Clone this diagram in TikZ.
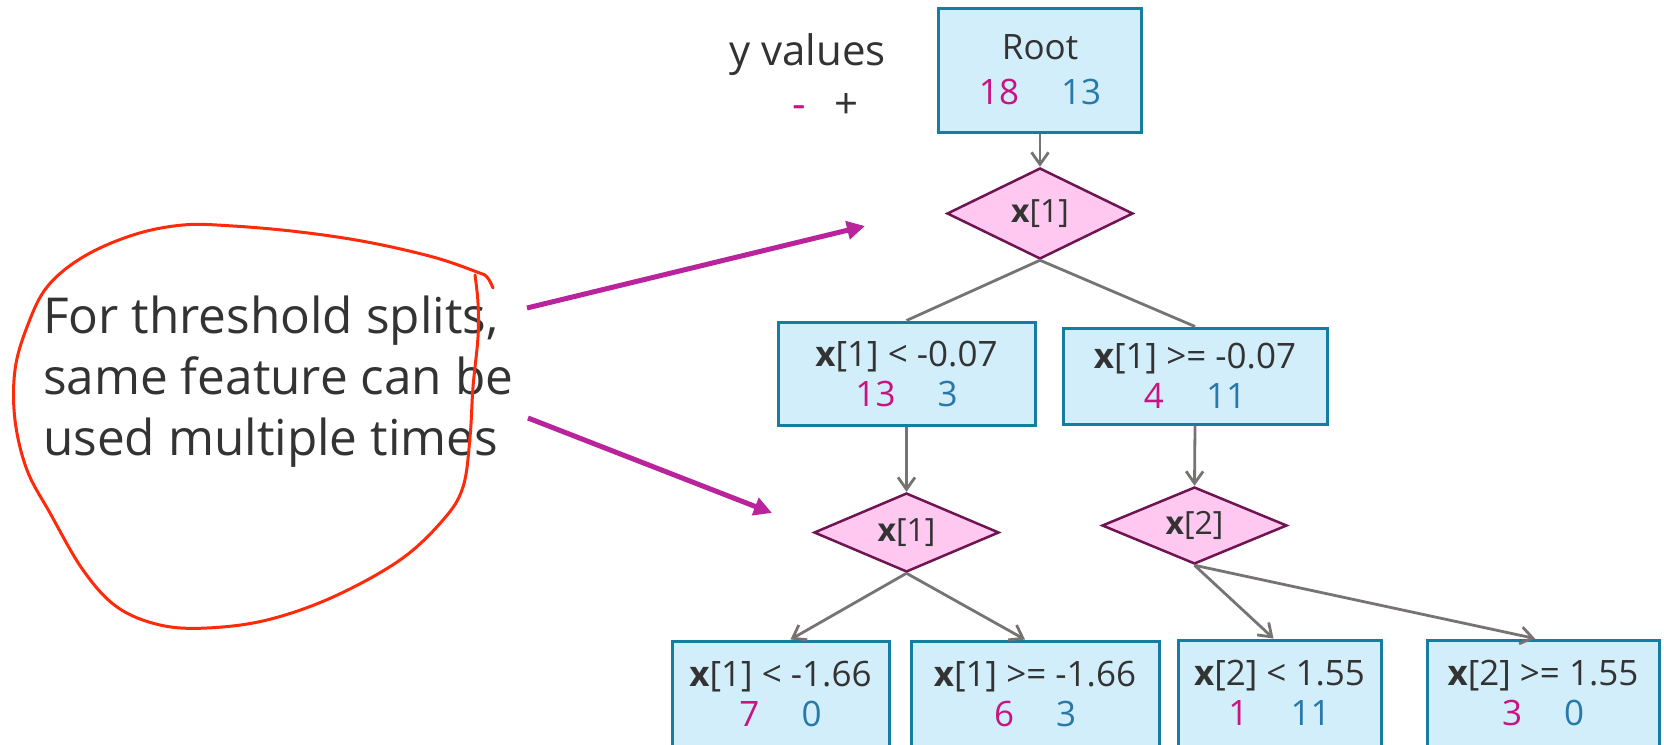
\documentclass[tikz,border=0pt]{standalone}
\usepackage{fontspec}
\setmainfont{Open Sans}
\definecolor{boxfill}{HTML}{D2EEFA}
\definecolor{boxline}{HTML}{147DA0}
\definecolor{diafill}{HTML}{FFC8F0}
\definecolor{dialine}{HTML}{6E1450}
\definecolor{neg}{HTML}{C81482}
\definecolor{pos}{HTML}{2878AA}
\definecolor{ink}{HTML}{333333}
\definecolor{conngray}{HTML}{787373}
\definecolor{hintpurple}{HTML}{B9239B}
\definecolor{loopred}{HTML}{FF2A0A}
\usetikzlibrary{shapes.geometric, arrows.meta}

\newcommand{\yv}[2]{\textcolor{neg}{#1}\hspace{1.2em}\textcolor{pos}{#2}}
\newcommand{\xf}[1]{\textbf{x}[#1]}

\begin{document}
\begin{tikzpicture}[x=1pt, y=-1pt,
  tbox/.style={draw=boxline, fill=boxfill, line width=3pt, inner sep=0pt,
               align=center, text=ink, font=\fontsize{35}{40}\selectfont},
  fdiam/.style={diamond, draw=dialine, fill=diafill, line width=2.5pt,
                inner sep=0pt, aspect=2, text=ink, font=\fontsize{32}{36}\selectfont},
  conn/.style={draw=conngray, line width=2.8pt, -{Straight Barb[length=12pt,width=17pt]}},
  tie/.style={draw=conngray, line width=2.8pt},
  hint/.style={draw=hintpurple, line width=5pt, -{Triangle[length=18pt,width=18pt]}},
  lbl/.style={inner sep=0pt, text=ink},
]
\fill[white] (0,0) rectangle (1664,744);
\useasboundingbox (0,0) rectangle (1664,744);

% legend
\node[lbl, anchor=base, font=\fontsize{42}{48}\selectfont] (yhead) at (807.5,65) {y values};
\node[lbl, font=\fontsize{42}{48}\selectfont] (ysign) at (825.5,106) {\textcolor{neg}{-}\hspace{28pt}+};

% tree
\node[tbox, minimum width=203pt, minimum height=124pt, font=\fontsize{35}{45}\selectfont] (root) at (1040,70) {Root\\ \yv{18}{13}};
\node[fdiam, minimum width=186pt, minimum height=91pt] (d1) at (1040,213.5) {\xf{1}};

\node[tbox, minimum width=257pt, minimum height=103pt] (lbox) at (906.5,373.5) {\xf{1} < -0.07\\ \yv{13}{3}};
\node[tbox, minimum width=264pt, minimum height=96pt] (rbox) at (1195,376) {\xf{1} >= -0.07\\ \yv{4}{11}};

\node[fdiam, minimum width=185pt, minimum height=79pt] (d2) at (906.5,532.5) {\xf{1}};
\node[fdiam, minimum width=185pt, minimum height=77pt] (d3) at (1194.5,525.5) {\xf{2}};

\node[tbox, minimum width=217pt, minimum height=106pt] (bl) at (780.5,694) {\xf{1} < -1.66\\ \yv{7}{0}};
\node[tbox, minimum width=248pt, minimum height=106pt] (blr) at (1035,694) {\xf{1} >= -1.66\\ \yv{6}{3}};
\node[tbox, minimum width=203pt, minimum height=106pt] (brl) at (1279.5,693) {\xf{2} < 1.55\\ \yv{1}{11}};
\node[tbox, minimum width=232pt, minimum height=106pt] (br) at (1543,693) {\xf{2} >=\ 1.55\\ \yv{3}{0}};

\draw[conn] (root.south) -- (d1.north);
\draw[tie] (d1.south) -- (lbox.north);
\draw[tie] (d1.south) -- (rbox.north);
\draw[conn] (lbox.south) -- (d2.north);
\draw[conn] (rbox.south) -- (d3.north);
\draw[conn] (d2.south) -- ([xshift=10pt]bl.north);
\draw[conn] (d2.south) -- ([xshift=-10pt]blr.north);
\draw[conn] (d3.south) -- ([xshift=-6pt]brl.north);
\draw[conn] (d3.south) -- ([xshift=-8pt]br.north);

% note on the left
\node[lbl, anchor=north west, align=left, font=\fontsize{49.5}{61}\selectfont] (note) at (43,296)
  {For threshold splits,\\ same feature can be\\ used multiple times};
\coordinate (h1a) at (527,308);
\coordinate (h1b) at (865,226);
\coordinate (h2a) at (528,418);
\coordinate (h2b) at (772,513);
\draw[hint] (h1a) -- (h1b);
\draw[hint] (h2a) -- (h2b);

\draw[loopred, line width=3pt, line cap=round] plot[smooth, tension=0.6] coordinates {
  (493,288) (487,277) (477,272) (433,257) (367,242) (300,232) (233,226) (183,225)
  (133,235) (83,257) (47,287) (27,327) (15,370) (15,420) (27,470) (50,513)
  (83,570) (117,607) (160,625) (207,628) (267,620) (333,597) (400,560) (443,520)
  (463,487) (470,437) (473,387) (478,337) (478,303) (475,275)};
\end{tikzpicture}
\end{document}
